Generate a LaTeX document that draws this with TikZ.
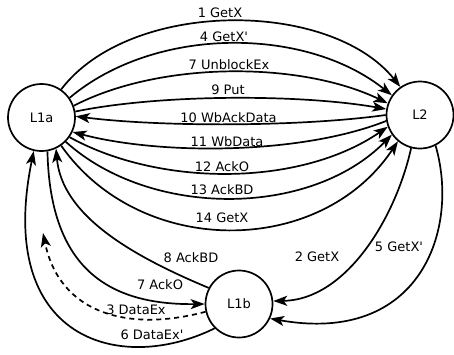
\documentclass[tikz,border=0pt]{standalone}
\usepackage{fontspec}
\setmainfont{DejaVu Sans}[Ligatures=TeXOff]
\usetikzlibrary{arrows.meta}
\begin{document}
\begin{tikzpicture}[x={(1pt,0pt)}, y={(0pt,-1pt)},
  state/.style={circle, draw, line width=1.7pt, minimum size=67pt, inner sep=0pt, font=\fontsize{13}{15}\selectfont},
  lbl/.style={inner sep=0pt, font=\fontsize{13}{15}\selectfont},
  edge/.style={line width=1.7pt, -{Stealth[length=14pt,width=10pt,inset=3.5pt]}},
  dashededge/.style={edge, dash pattern=on 5pt off 4pt}]
\useasboundingbox (0,0) rectangle (454,354);
\node[state] (L1a) at (41.5,117.5) {L1a};
\node[state] (L2) at (420,115) {L2};
\node[state] (L1b) at (239,304) {L1b};
\coordinate (d3) at (43,233);
% L1a <-> L2
\draw[edge] (L1a.55) .. controls (130,-1) and (330,-1) .. (L2.125);
\draw[edge] (L1a.35) .. controls (155,26) and (305,26) .. (L2.145);
\draw[edge] (L1a.20) .. controls (160,61) and (300,61) .. (L2.160);
\draw[edge] (L1a.10) .. controls (160,94) and (300,94) .. (L2.170);
\draw[edge] (L2.180) .. controls (300,127) and (160,127) .. (L1a.2);
\draw[edge] (L2.190) .. controls (300,155) and (160,155) .. (L1a.-25);
\draw[edge] (L1a.-35) .. controls (160,187) and (300,187) .. (L2.200);
\draw[edge] (L1a.-45) .. controls (150,218) and (310,218) .. (L2.215);
\draw[edge] (L1a.-55) .. controls (140,258) and (320,258) .. (L2.230);
% L2 -> L1b
\draw[edge] (L2.255) .. controls (395,220) and (345,300) .. (L1b.5);
\draw[edge] (L2.297) .. controls (460,230) and (420,345) .. (L1b.-25);
% L1a <-> L1b
\draw[edge] (L1a.-80) .. controls (50,270) and (110,305) .. (L1b.180);
\draw[edge] (L1b.152) .. controls (130,255) and (62,215) .. (L1a.-65);
\draw[dashededge] (L1b.193) .. controls (130,332) and (60,315) .. (d3);
\draw[edge] (L1b.225) .. controls (120,375) and (-5,340) .. (L1a.-103);
% labels
\node[lbl] (t1) at (220,13) {1 GetX};
\node[lbl] (t4) at (224,37) {4 GetX'};
\node[lbl] (t7) at (229,65) {7 UnblockEx};
\node[lbl] (t9) at (228,90) {9 Put};
\node[lbl] (t10) at (228.5,118) {10 WbAckData};
\node[lbl] (t11) at (227,142) {11 WbData};
\node[lbl] (t12) at (222,167) {12 AckO};
\node[lbl] (t13) at (222,190) {13 AckBD};
\node[lbl] (t14) at (222,218) {14 GetX};
\node[lbl] (t2) at (317,257) {2 GetX};
\node[lbl] (t5) at (399,247) {5 GetX'};
\node[lbl] (t7b) at (160,285) {7 AckO};
\node[lbl] (t8) at (191,258) {8 AckBD};
\node[lbl] (t3) at (136,310) {3 DataEx};
\node[lbl] (t6) at (152,335) {6 DataEx'};
\end{tikzpicture}
\end{document}
